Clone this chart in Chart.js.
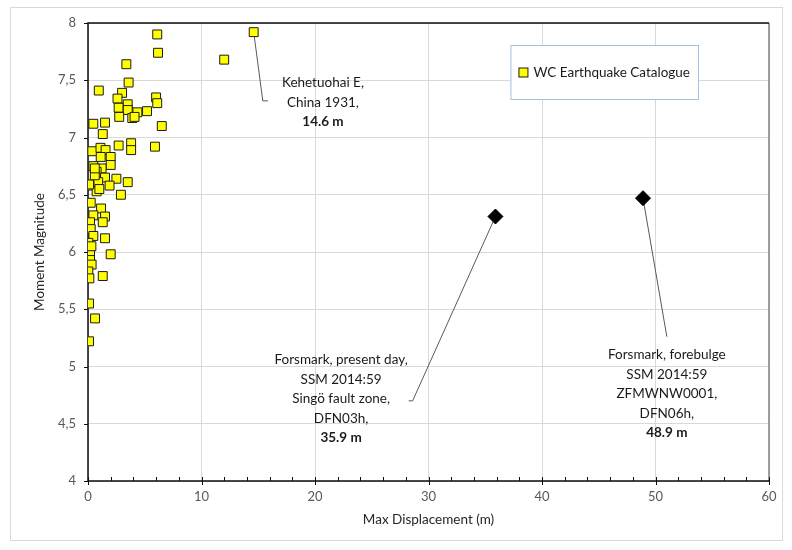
<!DOCTYPE html>
<html>
<head>
<meta charset="utf-8">
<script src="https://cdn.jsdelivr.net/npm/chart.js@4/dist/chart.umd.min.js"></script>
<style>
  html, body { margin: 0; padding: 0; background: #fff; }
</style>
</head>
<body>
<canvas id="chart" width="792" height="550"></canvas>
<script>
// WC catalogue: max displacement (m) and moment magnitude
const catalogueDisp = [6.1, 6.17, 3.38, 14.6, 12.0, 3.58, 0.95, 3.0, 2.6, 3.5, 6.0, 6.1, 2.7, 3.5, 4.35, 5.2,
    2.75, 3.9, 4.1, 6.5, 0.47, 1.5, 1.3, 2.7, 3.8, 3.8, 5.9, 0.38, 1.1, 1.55, 2.0, 1.12, 2.0, 0.47, 1.2,
    0.76, 2.5, 1.5, 3.5, 0.9, 0.12, 1.9, 0.76, 2.9, 0.24, 1.15, 0.47, 1.5, 1.3, 0.18, 0.24, 0.47, 1.5,
    0.03, 0.12, 0.18, 2.0, 0.18, 0.32, 0.03, 0.12, 1.3, 0.09, 0.62, 0.09, 0.1, 0.6, 1.0, 0.3, 0.6];
const catalogueMag = [7.90, 7.74, 7.64, 7.92, 7.68, 7.48, 7.41, 7.39, 7.34, 7.29, 7.35, 7.30, 7.26, 7.24, 7.22, 7.23,
    7.18, 7.17, 7.18, 7.10, 7.12, 7.13, 7.03, 6.93, 6.95, 6.89, 6.92, 6.88, 6.91, 6.89, 6.83, 6.83, 6.76, 6.75, 6.73,
    6.70, 6.64, 6.65, 6.61, 6.61, 6.58, 6.58, 6.53, 6.50, 6.43, 6.38, 6.32, 6.31, 6.26, 6.26, 6.20, 6.14, 6.12,
    6.08, 6.00, 5.98, 5.98, 5.93, 5.89, 5.83, 5.77, 5.79, 5.55, 5.42, 5.22, 6.59, 6.67, 6.55, 6.05, 6.73];

// Forsmark cases
const forsmarkDisp = [35.9, 48.9];
const forsmarkMag = [6.31, 6.47];

const xTicks = [0, 10, 20, 30, 40, 50, 60];
const yTicks = [4, 4.5, 5, 5.5, 6, 6.5, 7, 7.5, 8];

const FONT = 'Lato, "Liberation Sans", sans-serif';

// callouts: text anchor in data units, leader line path (data units)
const callouts = [
    {
        at: [20.7, 7.476],
        lines: ['Kehetuohai E,', 'China 1931,', '14.6 m'],
        path: [[14.6, 7.92], [15.4, 7.32], [15.85, 7.32]]
    },
    {
        at: [22.3, 5.057],
        lines: ['Forsmark, present day,', 'SSM 2014:59', 'Singö fault zone,', 'DFN03h,', '35.9 m'],
        path: [[35.9, 6.31], [28.6, 4.70], [28.25, 4.70]]
    },
    {
        at: [51.0, 5.10],
        lines: ['Forsmark, forebulge', 'SSM 2014:59', 'ZFMWNW0001,', 'DFN06h,', '48.9 m'],
        path: [[48.9, 6.47], [51.0, 5.26]]
    }
];

const toPoints = (xs, ys) => xs.map((x, i) => ({ x: x, y: ys[i] }));

const frame = {
    id: 'frame',
    beforeDraw(chart) {
        const { ctx } = chart;
        ctx.save();
        ctx.strokeStyle = '#d9d9d9';
        ctx.lineWidth = 1;
        ctx.strokeRect(10.5, 7.5, 772, 533);
        ctx.restore();
    },
    beforeDatasetsDraw(chart) {
        const { ctx, chartArea: { left, top, right, bottom }, scales: { x } } = chart;
        ctx.save();
        // leader lines
        ctx.strokeStyle = '#595959';
        ctx.lineWidth = 1;
        callouts.forEach(c => {
            ctx.beginPath();
            c.path.forEach((p, i) => {
                const px = x.getPixelForValue(p[0]);
                const py = chart.scales.y.getPixelForValue(p[1]);
                if (i === 0) ctx.moveTo(px, py); else ctx.lineTo(px, py);
            });
            ctx.stroke();
        });
        // plot border
        ctx.lineWidth = 1.5;
        ctx.strokeStyle = '#808080';
        ctx.beginPath();
        ctx.moveTo(right, top);
        ctx.lineTo(right, bottom);
        ctx.stroke();
        ctx.strokeStyle = '#0d0d0d';
        ctx.beginPath();
        ctx.moveTo(right, top);
        ctx.lineTo(left, top);
        ctx.lineTo(left, bottom);
        ctx.lineTo(right, bottom);
        ctx.stroke();
        // x ticks: major every 10 across the axis, minor every 2 inside
        ctx.lineWidth = 1;
        for (let v = 0; v <= 60; v += 2) {
            const px = Math.round(x.getPixelForValue(v)) + 0.5;
            ctx.beginPath();
            if (v % 10 === 0) {
                ctx.moveTo(px, bottom - 4);
                ctx.lineTo(px, bottom + 4);
            } else {
                ctx.moveTo(px, bottom - 4);
                ctx.lineTo(px, bottom);
            }
            ctx.stroke();
        }
        // y ticks outside
        yTicks.forEach(v => {
            const py = Math.round(chart.scales.y.getPixelForValue(v)) + 0.5;
            ctx.beginPath();
            ctx.moveTo(left - 4, py);
            ctx.lineTo(left, py);
            ctx.stroke();
        });
        ctx.restore();
    },
    afterDatasetsDraw(chart) {
        const { ctx, chartArea: { right }, scales: { x, y } } = chart;
        ctx.save();
        ctx.fillStyle = '#1a1a1a';
        ctx.textAlign = 'center';
        ctx.textBaseline = 'middle';
        callouts.forEach(c => {
            const cx = x.getPixelForValue(c.at[0]);
            const cy = y.getPixelForValue(c.at[1]);
            c.lines.forEach((t, i) => {
                const last = i === c.lines.length - 1;
                ctx.font = (last ? 'bold ' : '') + '13.5px ' + FONT;
                ctx.fillText(t, cx, cy + i * 19.5);
            });
        });

        // legend box
        const label = chart.data.datasets[0].label;
        ctx.font = '13.5px ' + FONT;
        const w = ctx.measureText(label).width;
        const textRight = right - 79;
        const textLeft = textRight - w;
        const sq = textLeft - 10;
        const boxL = sq - 13, boxR = right - 71, boxT = 45, boxB = 99;
        ctx.fillStyle = '#fff';
        ctx.fillRect(boxL, boxT, boxR - boxL, boxB - boxT);
        ctx.strokeStyle = '#9dc3e6';
        ctx.lineWidth = 1;
        ctx.strokeRect(boxL + 0.5, boxT + 0.5, boxR - boxL, boxB - boxT);
        ctx.fillStyle = '#ffff00';
        ctx.fillRect(sq - 4.5, 68, 9, 9);
        ctx.strokeStyle = '#1a1a1a';
        ctx.strokeRect(sq - 4.5, 68, 9, 9);
        ctx.fillStyle = '#1a1a1a';
        ctx.textAlign = 'left';
        ctx.fillText(label, textLeft, 72.5);
        ctx.restore();
    }
};

new Chart(document.getElementById('chart'), {
    type: 'scatter',
    data: {
        datasets: [
            {
                label: 'WC Earthquake Catalogue',
                data: toPoints(catalogueDisp, catalogueMag),
                pointStyle: 'rect',
                pointRadius: 6.3,
                pointHoverRadius: 6.3,
                backgroundColor: '#ffff00',
                borderColor: '#1a1a1a',
                borderWidth: 1
            },
            {
                label: 'Forsmark',
                data: toPoints(forsmarkDisp, forsmarkMag),
                pointStyle: 'rectRot',
                pointRadius: 7.5,
                pointHoverRadius: 7.5,
                backgroundColor: '#000',
                borderColor: '#000',
                borderWidth: 1
            }
        ]
    },
    options: {
        responsive: false,
        animation: false,
        devicePixelRatio: 1,
        layout: { padding: { left: 0, right: 23, top: 23, bottom: 0 } },
        plugins: {
            legend: { display: false },
            tooltip: { enabled: false }
        },
        scales: {
            x: {
                type: 'linear',
                min: 0,
                max: 60,
                afterBuildTicks: scale => { scale.ticks = xTicks.map(v => ({ value: v })); },
                afterFit: scale => { scale.height = 69; },
                ticks: {
                    color: '#595959',
                    font: { family: FONT, size: 13 },
                    padding: 8
                },
                grid: { color: '#d9d9d9', drawTicks: false },
                border: { display: false },
                title: {
                    display: true,
                    text: 'Max Displacement (m)',
                    color: '#262626',
                    font: { family: FONT, size: 13.5 },
                    padding: { top: 0, bottom: 22 }
                }
            },
            y: {
                min: 4,
                max: 8,
                afterBuildTicks: scale => { scale.ticks = yTicks.map(v => ({ value: v })); },
                afterFit: scale => { scale.width = 88; },
                ticks: {
                    color: '#595959',
                    font: { family: FONT, size: 13 },
                    padding: 12,
                    callback: v => String(v).replace('.', ',')
                },
                grid: { color: '#d9d9d9', drawTicks: false },
                border: { display: false },
                title: {
                    display: true,
                    text: 'Moment Magnitude',
                    color: '#262626',
                    font: { family: FONT, size: 13.5 },
                    padding: { top: 32, bottom: 0 }
                }
            }
        }
    },
    plugins: [frame]
});
</script>
</body>
</html>
